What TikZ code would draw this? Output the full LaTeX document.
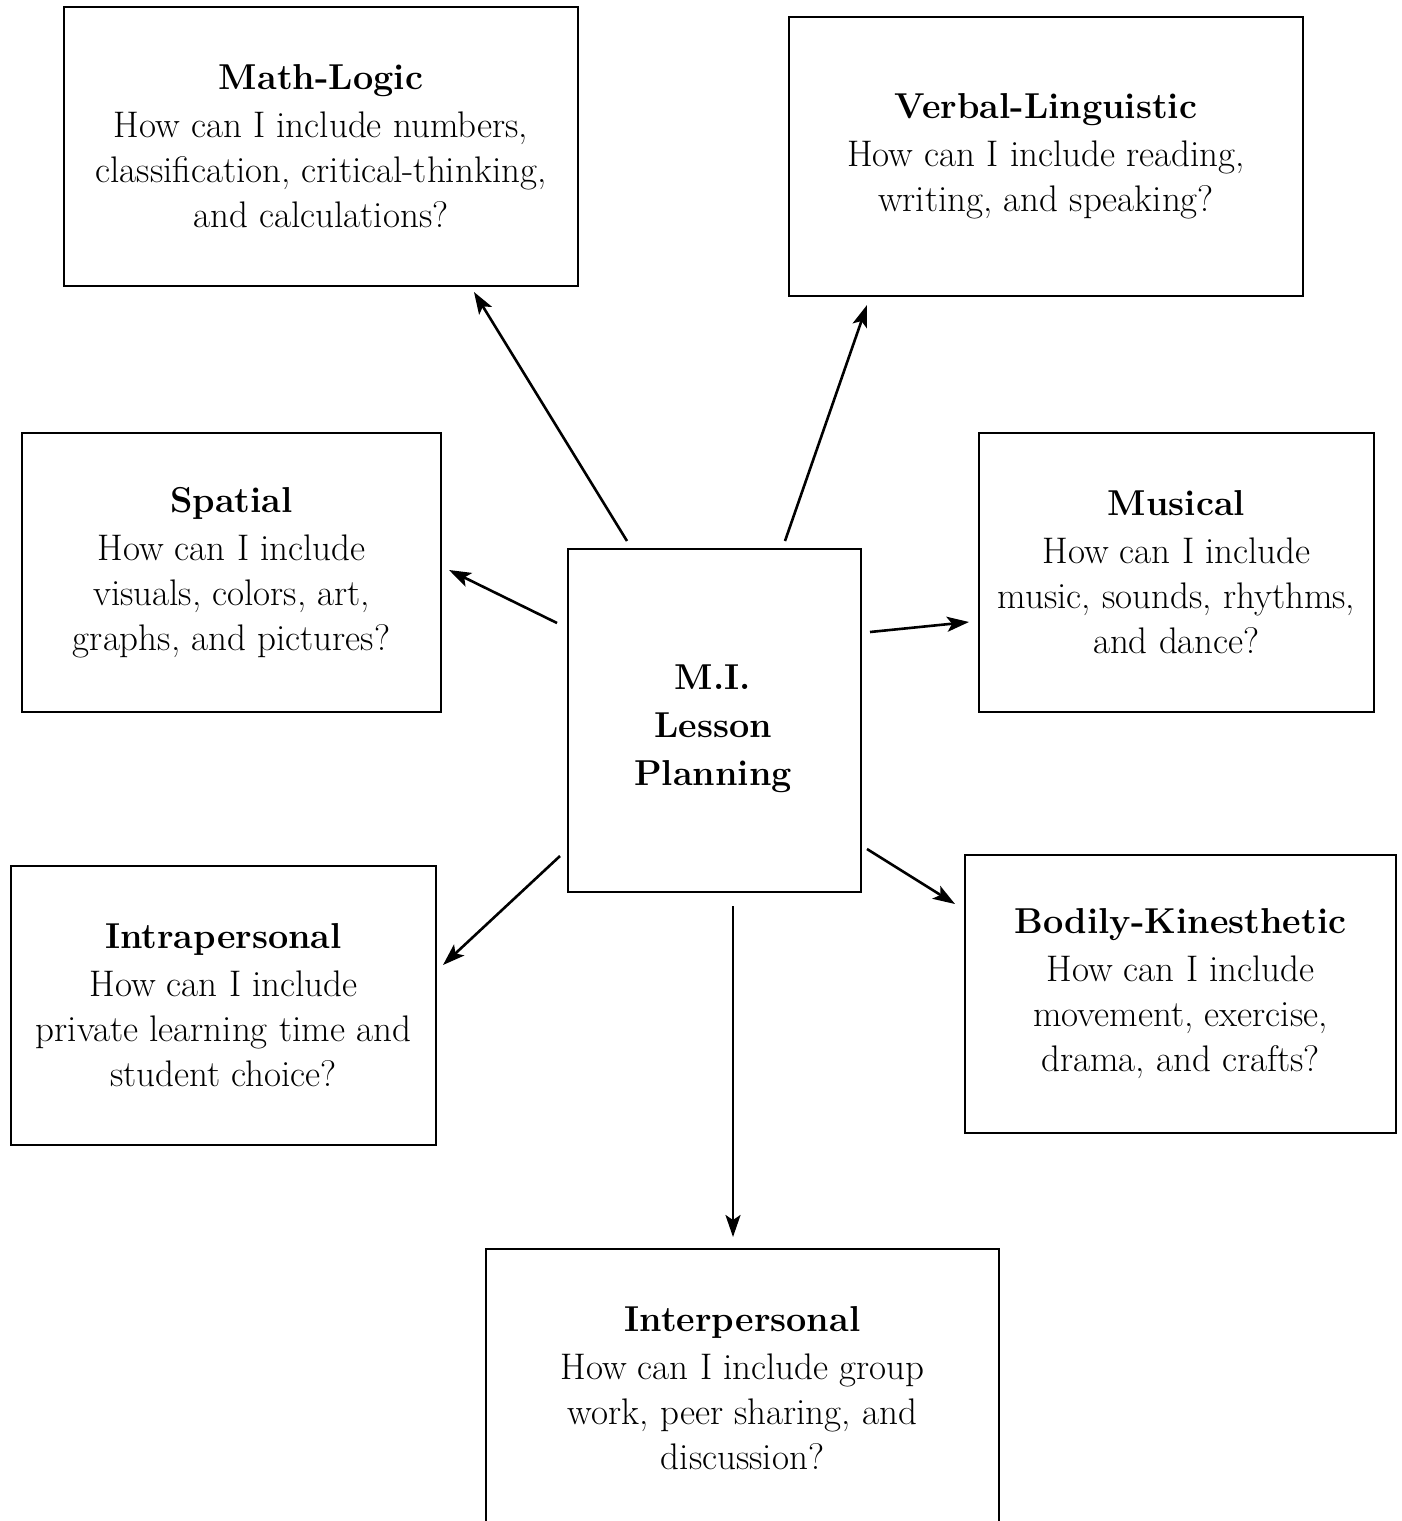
\documentclass[tikz,border=0pt]{standalone}
\usetikzlibrary{arrows.meta}
\newcommand{\ttl}[1]{{\fontsize{36}{45}\selectfont\bfseries #1}}
\begin{document}
\begin{tikzpicture}[x=1pt,y=-1pt,
  box/.style={draw,line width=2.6pt,rectangle,inner sep=0pt,align=center,
    font=\fontsize{37}{45}\selectfont},
  conn/.style={line width=2.6pt,-{Stealth[length=22pt,width=15pt,inset=5pt]}}]
\useasboundingbox (0,0) rectangle (1402,1521);
\node[box,minimum width=514pt,minimum height=279pt] (ml) at (321,146.5)
  {\ttl{Math-Logic}\\[3pt]How can I include numbers,\\classification, critical-thinking,\\and calculations?};
\node[box,minimum width=514pt,minimum height=279pt] (vl) at (1046,156.5)
  {\ttl{Verbal-Linguistic}\\[3pt]How can I include reading,\\writing, and speaking?};
\node[box,minimum width=419pt,minimum height=279pt] (sp) at (231.5,572.5)
  {\ttl{Spatial}\\[3pt]How can I include\\visuals, colors, art,\\graphs, and pictures?};
\node[box,minimum width=395pt,minimum height=279pt] (mu) at (1176.5,572.5)
  {\ttl{Musical}\\[3pt]How can I include\\music, sounds, rhythms,\\and dance?};
\node[box,minimum width=293pt,minimum height=343pt] (c) at (714.5,720.5) {};
\node[align=center,font=\fontsize{36}{48}\selectfont\bfseries] (ct) at (713,729)
  {M.I.\\Lesson\\Planning};
\node[box,minimum width=425pt,minimum height=279pt] (intra) at (223.5,1005.5)
  {\ttl{Intrapersonal}\\[3pt]How can I include\\private learning time and\\student choice?};
\node[box,minimum width=431pt,minimum height=278pt] (bk) at (1180.5,994)
  {\ttl{Bodily-Kinesthetic}\\[3pt]How can I include\\movement, exercise,\\drama, and crafts?};
\node[box,minimum width=513pt,minimum height=279pt] (inter) at (742.5,1388.5)
  {\ttl{Interpersonal}\\[3pt]How can I include group\\work, peer sharing, and\\discussion?};
\coordinate (s1) at (627,541);  \coordinate (e1) at (474,292);
\coordinate (s2) at (785,541);  \coordinate (e2) at (867,305);
\coordinate (s3) at (557,623);  \coordinate (e3) at (449,570);
\coordinate (s4) at (870,632);  \coordinate (e4) at (969,622);
\coordinate (s5) at (560,856);  \coordinate (e5) at (443,965);
\coordinate (s6) at (867,849);  \coordinate (e6) at (955,904);
\coordinate (s7) at (733,906);  \coordinate (e7) at (733,1237);
\draw[conn] (s1) -- (e1);
\draw[conn] (s2) -- (e2);
\draw[conn] (s3) -- (e3);
\draw[conn] (s4) -- (e4);
\draw[conn] (s5) -- (e5);
\draw[conn] (s6) -- (e6);
\draw[conn] (s7) -- (e7);
\end{tikzpicture}
\end{document}
